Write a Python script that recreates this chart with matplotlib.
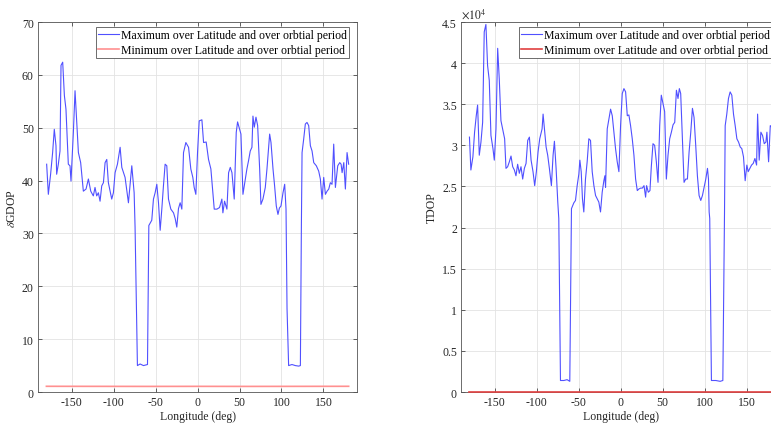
import numpy as n
import matplotlib.pyplot as plt
from matplotlib.ticker import FuncFormatter

plt.rcParams['font.family'] = ['Liberation Serif', 'DejaVu Serif']
plt.rcParams['mathtext.fontset'] = 'stix'
plt.rcParams['axes.unicode_minus'] = False
fs = 8.5
plt.rcParams['font.size'] = fs

# max delta GDOP over latitude / orbital period, per longitude
gdop_lon = [-179.7, -177.7, -175.0, -172.6, -170.6, -168.6, -167.8, -165.8, -163.8, -162.6,
            -160.6, -158.6, -156.7, -153.9, -151.9, -150.7, -147.9, -145.9, -143.9, -141.9,
            -139.2, -136.0, -132.8, -130.0, -127.2, -124.1, -122.1, -120.1, -118.1, -116.1,
            -114.1, -112.1, -110.1, -108.1, -106.2, -102.2, -100.2, -98.2, -95.4, -92.2,
            -90.2, -86.3, -82.3, -78.3, -75.5, -74.4, -71.6, -68.4, -64.4, -59.6,
            -58.0, -54.5, -52.5, -50.5, -48.5, -46.5, -44.5, -42.5, -40.6, -38.6,
            -36.6, -34.6, -31.8, -28.6, -26.6, -24.7, -22.7, -20.7, -18.7, -16.7,
            -13.9, -10.7, -8.0, -5.6, -4.0, -2.0, 0.0, 2.0, 5.2, 7.2,
            10.3, 13.1, 15.9, 18.3, 19.9, 23.1, 26.2, 29.0, 30.2, 32.2,
            35.0, 37.0, 39.0, 41.0, 43.7, 46.1, 47.7, 50.1, 51.7, 54.1,
            56.9, 58.8, 60.8, 62.8, 64.8, 66.0, 67.6, 69.6, 71.6, 74.0,
            75.5, 77.9, 80.7, 82.7, 85.9, 87.5, 89.9, 91.8, 93.8, 95.8,
            97.5, 99.4, 101.8, 103.8, 105.4, 106.6, 108.5, 112.5, 116.5, 120.5,
            122.5, 123.7, 124.5, 126.4, 128.4, 130.4, 132.4, 134.4, 136.4, 138.4,
            141.5, 144.3, 146.3, 148.3, 150.3, 152.3, 154.3, 156.3, 158.2, 160.2,
            162.2, 164.2, 167.0, 169.4, 171.0, 172.2, 174.2, 176.1, 178.1, 180.0]
gdop_max = [43.1, 37.4, 41.2, 45.3, 49.7, 46.6, 41.2, 43.1, 45.6, 61.8,
            62.4, 56.1, 53.5, 43.1, 42.8, 39.9, 49.1, 57.0, 51.0, 45.3,
            43.4, 38.0, 38.4, 40.3, 38.0, 37.1, 38.7, 37.1, 37.7, 36.1,
            39.0, 39.6, 43.4, 44.0, 39.6, 36.5, 37.7, 41.5, 43.1, 46.3,
            42.5, 40.6, 35.8, 42.8, 37.7, 31.2, 5.0, 5.3, 5.0, 5.2,
            31.5, 32.5, 36.5, 37.7, 39.3, 35.8, 30.6, 34.7, 39.0, 43.1,
            42.8, 36.5, 34.6, 33.9, 32.8, 31.2, 34.7, 35.8, 34.6, 45.3,
            47.2, 46.3, 42.2, 40.6, 38.7, 37.4, 45.3, 51.3, 51.5, 47.2,
            47.3, 44.0, 42.2, 37.7, 34.6, 34.6, 34.9, 36.5, 33.9, 36.1,
            34.6, 41.5, 42.5, 41.5, 36.5, 49.1, 51.1, 49.7, 48.8, 37.4,
            40.3, 42.2, 43.8, 45.6, 46.3, 52.2, 50.1, 52.0, 50.4, 42.2,
            35.5, 36.5, 38.7, 42.2, 48.8, 47.2, 42.2, 39.0, 35.2, 33.6,
            34.8, 35.2, 37.7, 39.3, 34.6, 15.8, 5.0, 5.2, 5.0, 4.9,
            5.0, 31.5, 45.3, 47.8, 50.7, 51.0, 50.4, 46.6, 45.6, 43.4,
            42.8, 41.8, 40.3, 36.5, 40.6, 37.4, 38.0, 38.4, 39.6, 39.3,
            46.9, 38.7, 42.8, 43.4, 43.1, 41.5, 43.4, 38.4, 45.3, 43.1]

gdop_min_lon = [-180, -120, -60, 0, 60, 120, 180]
gdop_min = [1.08, 1.07, 1.06, 1.07, 1.06, 1.07, 1.08]

# max TDOP, values in units of 1e4
tdop_lon = [-180.0, -178.3, -175.9, -173.9, -171.9, -170.3, -168.3, -166.3, -164.3, -162.4,
            -160.4, -158.4, -156.4, -154.4, -152.0, -150.4, -148.4, -146.4, -144.5, -142.5,
            -140.1, -138.1, -136.5, -134.5, -132.5, -130.5, -128.5, -126.5, -124.6, -122.6,
            -120.6, -118.6, -116.6, -114.6, -112.6, -110.6, -108.6, -106.6, -104.3, -102.3,
            -100.3, -98.3, -96.3, -93.5, -92.3, -90.7, -88.7, -86.8, -84.8, -82.4,
            -80.4, -78.8, -76.8, -74.8, -73.6, -71.6, -67.6, -63.7, -60.5, -58.5,
            -57.7, -55.7, -53.7, -51.7, -49.7, -48.5, -46.9, -45.4, -43.8, -41.8,
            -39.8, -37.8, -35.8, -33.8, -31.8, -29.8, -27.9, -25.9, -23.9, -21.9,
            -19.9, -18.7, -17.9, -15.9, -13.9, -11.9, -9.9, -8.0, -6.0, -4.0,
            -2.0, 0.0, 2.0, 4.0, 6.0, 8.0, 9.9, 11.9, 13.9, 15.9,
            17.9, 19.9, 21.9, 23.9, 25.9, 27.9, 29.8, 31.0, 33.0, 35.0,
            36.6, 38.6, 40.6, 42.6, 44.6, 46.6, 48.5, 50.5, 52.5, 54.5,
            56.5, 58.5, 60.5, 62.5, 64.5, 66.5, 68.4, 70.0, 71.6, 73.6,
            75.6, 77.6, 79.6, 81.6, 83.6, 85.6, 87.5, 89.5, 91.5, 93.5,
            95.5, 97.5, 99.5, 101.5, 103.5, 104.7, 105.5, 106.2, 108.2, 113.4,
            118.6, 121.8, 123.8, 124.6, 126.5, 128.5, 130.5, 132.5, 134.5, 136.5,
            138.5, 140.5, 142.5, 144.4, 146.4, 148.4, 150.4, 152.0, 154.0, 156.0,
            158.0, 160.0, 162.0, 163.2, 165.1, 167.1, 169.1, 171.1, 173.1, 174.3,
            176.3, 178.3, 180.0]
tdop_max = [3.10, 2.70, 2.86, 3.16, 3.36, 3.49, 2.88, 3.04, 3.28, 4.38,
            4.47, 3.97, 3.79, 3.12, 2.96, 2.82, 3.20, 4.18, 3.81, 3.30,
            3.18, 3.08, 2.72, 2.74, 2.80, 2.87, 2.74, 2.70, 2.63, 2.77,
            2.66, 2.74, 2.59, 2.72, 2.78, 3.06, 3.10, 2.82, 2.68, 2.51,
            2.68, 2.92, 3.08, 3.20, 3.38, 3.20, 2.98, 2.88, 2.72, 2.51,
            2.88, 3.05, 2.72, 2.31, 2.11, 0.14, 0.14, 0.15, 0.13, 2.23,
            2.25, 2.30, 2.33, 2.51, 2.65, 2.82, 2.68, 2.35, 2.19, 2.59,
            2.80, 3.08, 3.06, 2.68, 2.51, 2.39, 2.35, 2.31, 2.19, 2.43,
            2.57, 2.63, 2.49, 3.20, 3.32, 3.44, 3.36, 3.16, 2.96, 2.80,
            2.68, 3.24, 3.63, 3.69, 3.65, 3.36, 3.37, 3.24, 3.08, 2.88,
            2.59, 2.45, 2.47, 2.48, 2.48, 2.51, 2.37, 2.51, 2.43, 2.45,
            2.74, 3.02, 3.00, 2.80, 2.55, 3.24, 3.61, 3.51, 3.41, 2.59,
            2.88, 3.08, 3.16, 3.25, 3.28, 3.67, 3.57, 3.69, 3.63, 3.08,
            2.55, 2.59, 2.59, 2.92, 3.16, 3.45, 3.34, 3.00, 2.63, 2.39,
            2.33, 2.39, 2.49, 2.59, 2.72, 2.59, 2.19, 2.11, 0.14, 0.14,
            0.13, 0.14, 2.19, 3.24, 3.38, 3.57, 3.65, 3.61, 3.38, 3.24,
            3.08, 3.04, 2.98, 2.96, 2.86, 2.57, 2.76, 2.68, 2.72, 2.76,
            2.78, 2.84, 2.76, 3.38, 2.82, 3.16, 3.12, 3.02, 3.04, 3.16,
            2.80, 3.24, 3.22]

tdop_min_lon = [-180, -120, -60, 0, 60, 120, 180]
tdop_min = [0.0001, 0.0001, 0.0001, 0.0001, 0.0001, 0.0001, 0.0001]

leg_labels = ['Maximum over Latitude and over orbtial period',
              'Minimum over Latitude and over orbtial period']
xticks = [-150, -100, -50, 0, 50, 100, 150]

edge = '#262626'
blue = '#5050ff'
pink = '#ff9090'


def style_axes(ax):
    ax.set_xlim(-190, 190)
    ax.set_xticks(xticks)
    ax.grid(True, color='#e3e3e3', linewidth=0.6)
    ax.set_axisbelow(True)
    ax.tick_params(direction='in', top=True, right=True, length=3,
                   width=0.5, colors=edge, labelsize=fs, pad=3)
    for s in ax.spines.values():
        s.set_color('#555555')
        s.set_linewidth(0.6)
    ax.set_xlabel('Longitude (deg)', fontsize=fs, color=edge, labelpad=1)
    leg = ax.legend(leg_labels, loc='upper left', bbox_to_anchor=(0.183, 0.986),
                    borderaxespad=0, fancybox=False, framealpha=1, fontsize=fs,
                    borderpad=0.15, handletextpad=0.15, handlelength=1.8,
                    labelspacing=0.25)
    leg.get_frame().set_edgecolor('#555555')
    leg.get_frame().set_linewidth(0.6)


fig = plt.figure(figsize=(7.71, 4.27), dpi=100)

ax1 = fig.add_axes([0.0493, 0.0796, 0.4138, 0.8665])
ax1.plot(gdop_lon, gdop_max, color=blue, linewidth=0.8)
ax1.plot(gdop_min_lon, gdop_min, color=pink, linewidth=1.2)
ax1.set_ylim(0, 70)
ax1.set_yticks(range(0, 71, 10))
ax1.set_ylabel(r'$\delta$GDOP', fontsize=fs, color=edge, labelpad=3)
style_axes(ax1)

ax2 = fig.add_axes([0.598, 0.0796, 0.4138, 0.8665])
ax2.plot(tdop_lon, n.array(tdop_max) * 1e4, color=blue, linewidth=0.8)
ax2.plot(tdop_min_lon, n.array(tdop_min) * 1e4, color='#e04040',
         linewidth=1.2, clip_on=False, zorder=5)
ax2.set_ylim(0, 4.5e4)
ax2.set_yticks(n.arange(0, 4.51e4, 0.5e4))
ax2.yaxis.set_major_formatter(FuncFormatter(lambda v, p: f'{v / 1e4:g}'))
ax2.text(0.0, 1.004, r'$\times10^{4}$', transform=ax2.transAxes,
         ha='left', va='bottom', fontsize=fs, color=edge)
ax2.set_ylabel('TDOP', fontsize=fs, color=edge, labelpad=3)
style_axes(ax2)

fig.savefig('out.png', dpi=100)
